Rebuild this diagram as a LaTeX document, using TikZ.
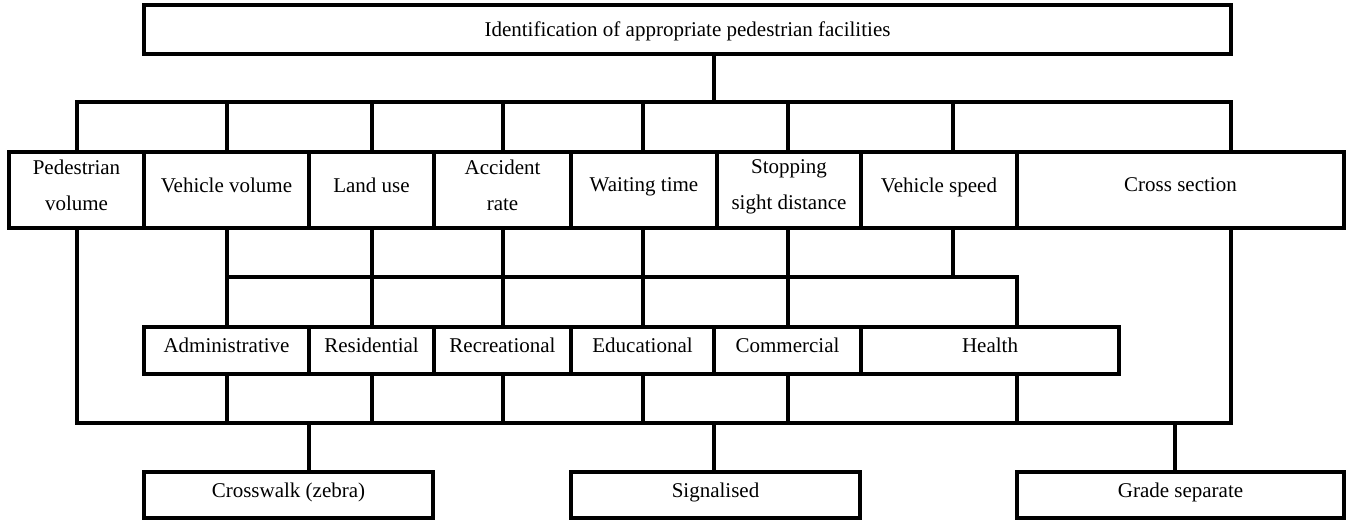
\documentclass[tikz,border=0pt]{standalone}
\usepackage{fontspec}
\setmainfont{Liberation Serif}
\begin{document}
\begin{tikzpicture}[x=1pt,y=-1pt,font=\fontsize{21}{36}\selectfont,
  cell/.style={draw,line width=4pt,inner sep=0pt,outer sep=0pt,align=center,text depth=10pt},
  crit/.style={cell,minimum height=76pt},
  use/.style={cell,minimum height=47pt},
  fac/.style={cell,minimum height=46pt},
  link/.style={line width=4pt}]
\useasboundingbox (0,0) rectangle (1351,521);
\node[cell,minimum width=1087pt,minimum height=49pt,text depth=0pt] (goal) at (687.5,29.5) {Identification of appropriate pedestrian facilities};
\node[crit,minimum width=135pt] (ped) at (76.5,190) {Pedestrian\\volume};
\node[crit,minimum width=165pt] (vvol) at (226.5,190) {Vehicle volume};
\node[crit,minimum width=125pt] (land) at (371.5,190) {Land use};
\node[crit,minimum width=137pt] (acc) at (502.5,190) {Accident\\rate};
\node[crit,minimum width=146pt] (wait) at (644,190) {Waiting time};
\node[crit,minimum width=144pt] (ssd) at (789,190) {Stopping\\sight distance};
\node[crit,minimum width=156pt] (vspd) at (939,190) {Vehicle speed};
\node[crit,minimum width=327pt] (cross) at (1180.5,190) {Cross section};
\node[use,minimum width=165pt] (admin) at (226.5,350.5) {Administrative};
\node[use,minimum width=125pt] (resid) at (371.5,350.5) {Residential};
\node[use,minimum width=137pt] (recr) at (502.5,350.5) {Recreational};
\node[use,minimum width=143pt] (educ) at (642.5,350.5) {Educational};
\node[use,minimum width=147pt] (comm) at (787.5,350.5) {Commercial};
\node[use,minimum width=258pt] (health) at (990,350.5) {Health};
\node[fac,minimum width=289pt] (zebra) at (288.5,495) {Crosswalk (zebra)};
\node[fac,minimum width=289pt] (signal) at (715.5,495) {Signalised};
\node[fac,minimum width=327pt] (grade) at (1180.5,495) {Grade separate};
\coordinate (j1) at (714,102);
\coordinate (j2) at (0,277);
\coordinate (j3) at (0,423);
\coordinate (vspdU) at ([xshift=14pt]vspd.north);
\coordinate (vspdD) at ([xshift=14pt]vspd.south);
\coordinate (crossU) at ([xshift=50.5pt]cross.north);
\coordinate (crossD) at ([xshift=50.5pt]cross.south);
\coordinate (healthU) at ([xshift=27pt]health.north);
\coordinate (healthD) at ([xshift=27pt]health.south);
\coordinate (zebraU) at ([xshift=20.5pt]zebra.north);
\coordinate (gradeU) at ([xshift=-5.5pt]grade.north);
\draw[link] (goal.south -| j1) -- (j1);
\draw[link] (ped.north) |- (crossU |- j1) -- (crossU);
\foreach \a/\b in {vvol/admin,land/resid,acc/recr,wait/educ,ssd/comm} {
  \draw[link] (\b.north |- j1) -- (\b.north |- \a.north);
  \draw[link] (\b.north |- \a.south) -- (\b.north);
  \draw[link] (\b.south) -- (\b.south |- j3);
}
\draw[link] (vspdU |- j1) -- (vspdU);
\draw[link] (admin.north |- j2) -| (healthU);
\draw[link] (vspdD) -- (vspdD |- j2);
\draw[link] (ped.south) |- (crossD |- j3) -- (crossD);
\draw[link] (healthD) -- (healthD |- j3);
\draw[link] (zebraU |- j3) -- (zebraU);
\draw[link] ([xshift=-1.5pt]signal.north |- j3) -- ([xshift=-1.5pt]signal.north);
\draw[link] (gradeU |- j3) -- (gradeU);
\end{tikzpicture}
\end{document}
